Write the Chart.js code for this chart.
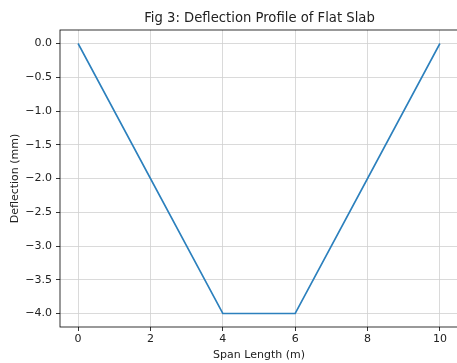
<!DOCTYPE html>
<html>
<head>
<meta charset="utf-8">
<script src="https://cdn.jsdelivr.net/npm/chart.js@4/dist/chart.umd.min.js"></script>
<style>
  html, body { margin: 0; padding: 0; background: #fff; overflow: hidden; }
  #wrap { width: 458px; height: 363px; }
</style>
</head>
<body>
<div id="wrap"><canvas id="chart"></canvas></div>
<script>
// data
const spanX = [0, 2, 4, 6, 8, 10];
const deflection = [0, -2, -4, -4, -2, 0];
const xTicks = [0, 2, 4, 6, 8, 10];
const yTicks = [-4.0, -3.5, -3.0, -2.5, -2.0, -1.5, -1.0, -0.5, 0.0];

const FONT = "'DejaVu Sans', sans-serif";
const fmtY = v => (v < 0 ? '\u2212' : '') + Math.abs(v).toFixed(1);

// title, axis labels and the box frame, drawn like matplotlib does
const mplFrame = {
    id: 'mplFrame',
    afterDraw(chart) {
        const { ctx, chartArea: a } = chart;
        ctx.save();
        ctx.strokeStyle = '#000';
        ctx.lineWidth = 0.8;
        ctx.strokeRect(a.left, a.top, a.right - a.left, a.bottom - a.top);

        ctx.fillStyle = '#222';
        ctx.textAlign = 'center';
        ctx.textBaseline = 'middle';
        ctx.font = '13.2px ' + FONT;
        ctx.fillText('Fig 3: Deflection Profile of Flat Slab', 259.5, 19);

        ctx.font = '11px ' + FONT;
        ctx.fillText('Span Length (m)', 259, 355);

        ctx.translate(15, (a.top + a.bottom) / 2);
        ctx.rotate(-Math.PI / 2);
        ctx.fillText('Deflection (mm)', 0, 0);
        ctx.restore();
    }
};

new Chart(document.getElementById('chart'), {
    type: 'scatter',
    data: {
        datasets: [{
            data: spanX.map((x, i) => ({ x: x, y: deflection[i] })),
            showLine: true,
            borderColor: '#2c80bd',
            borderWidth: 1.6,
            pointRadius: 0,
            fill: false,
            tension: 0
        }]
    },
    options: {
        responsive: true,
        maintainAspectRatio: false,
        animation: false,
        layout: { padding: { top: 30, left: 0, right: 0, bottom: 0 } },
        plugins: { legend: { display: false }, title: { display: false }, tooltip: { enabled: false } },
        scales: {
            x: {
                type: 'linear',
                min: -0.5,
                max: 10.5,
                afterBuildTicks: s => { s.ticks = xTicks.map(v => ({ value: v })); },
                afterFit: s => { s.height = 36; },
                grid: { color: '#d0d0d0', lineWidth: 0.8, tickColor: '#000', tickLength: 4, tickWidth: 0.8 },
                border: { display: false },
                ticks: { color: '#222', font: { family: FONT, size: 11 }, padding: 2, maxRotation: 0 }
            },
            y: {
                min: -4.2,
                max: 0.2,
                afterBuildTicks: s => { s.ticks = yTicks.map(v => ({ value: v })); },
                afterFit: s => { s.width = 60; },
                grid: { color: '#d0d0d0', lineWidth: 0.8, tickColor: '#000', tickLength: 4, tickWidth: 0.8 },
                border: { display: false },
                ticks: { color: '#222', font: { family: FONT, size: 11 }, padding: 4, callback: v => fmtY(v) }
            }
        }
    },
    plugins: [mplFrame]
});
</script>
</body>
</html>
